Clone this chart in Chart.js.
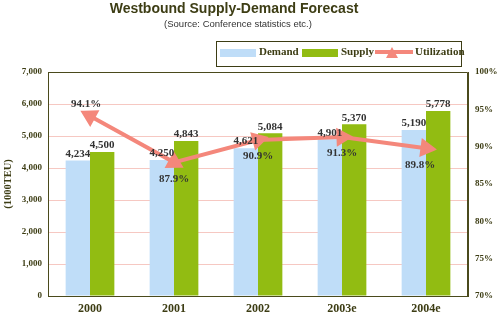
<!DOCTYPE html>
<html>
<head>
<meta charset="utf-8">
<script src="https://cdn.jsdelivr.net/npm/chart.js@4/dist/chart.umd.min.js"></script>
<style>
  html, body { margin: 0; padding: 0; background: #fff; }
  #wrap { width: 500px; height: 321px; }
</style>
</head>
<body>
<div id="wrap"><canvas id="chart" width="500" height="321"></canvas></div>
<script>
const categories = ['2000', '2001', '2002', '2003e', '2004e'];
const demand = [4234, 4250, 4621, 4901, 5190];
const supply = [4500, 4843, 5084, 5370, 5778];
const utilization = [94.1, 87.9, 90.9, 91.3, 89.8];

const olive = '#3d3d14';
const demandColor = '#bfddf8';
const supplyColor = '#92bc12';
const lineColor = '#f4877b';
const gridColor = '#f6c8c2';
const serif = '"Liberation Serif", "Times New Roman", serif';
const sans = '"Liberation Sans", Arial, sans-serif';

const fmt = v => v.toLocaleString('en-US');

// point the triangle markers along the line, like arrow heads
function arrowRotation(ctx) {
    const chart = ctx.chart;
    const xs = chart.scales.x, ys = chart.scales.y1;
    if (!xs || !ys) return 0;
    const i = ctx.dataIndex;
    const px = k => xs.getPixelForValue(k);
    const py = k => ys.getPixelForValue(utilization[k]);
    let dx, dy;
    if (i === 0) {
        dx = px(0) - px(1);
        dy = py(0) - py(1);
    } else {
        dx = px(i) - px(i - 1);
        dy = py(i) - py(i - 1);
    }
    return Math.atan2(dy, dx) * 180 / Math.PI + 90;
}

// titles, legend, frame and value labels
const extras = {
    id: 'extras',
    afterDatasetsDraw(chart) {
        const ctx = chart.ctx;
        const area = chart.chartArea;
        ctx.save();

        // plot frame
        ctx.strokeStyle = '#4a4a1c';
        ctx.lineWidth = 1;
        ctx.beginPath();
        ctx.moveTo(area.left + 0.5, area.bottom);
        ctx.lineTo(area.left + 0.5, area.top + 0.5);
        ctx.lineTo(area.right - 0.5, area.top + 0.5);
        ctx.lineTo(area.right - 0.5, area.bottom);
        ctx.stroke();

        // bar values
        ctx.fillStyle = '#333';
        ctx.font = 'bold 11px ' + serif;
        ctx.textAlign = 'center';
        ctx.textBaseline = 'bottom';
        [0, 1].forEach(d => {
            const meta = chart.getDatasetMeta(d);
            const vals = chart.data.datasets[d].data;
            meta.data.forEach((bar, i) => {
                ctx.fillText(fmt(vals[i]), bar.x, bar.y - 1);
            });
        });

        // utilization values
        const lm = chart.getDatasetMeta(2);
        lm.data.forEach((pt, i) => {
            const txt = utilization[i].toFixed(1) + '%';
            if (i === 0) {
                ctx.textBaseline = 'bottom';
                ctx.fillText(txt, pt.x - 4, pt.y - 6);
            } else {
                ctx.textBaseline = 'top';
                ctx.fillText(txt, pt.x - (i === 4 ? 6 : 0), pt.y + 11);
            }
        });
        ctx.restore();
    },
    afterDraw(chart) {
        const ctx = chart.ctx;
        ctx.save();
        // title + subtitle
        ctx.fillStyle = olive;
        ctx.textAlign = 'center';
        ctx.textBaseline = 'middle';
        ctx.font = 'bold 14px ' + sans;
        ctx.fillText('Westbound Supply-Demand Forecast', 234, 9);
        ctx.fillStyle = '#333';
        ctx.font = '9.5px ' + sans;
        ctx.fillText('(Source: Conference statistics etc.)', 238, 24);

        // legend box
        ctx.strokeStyle = olive;
        ctx.lineWidth = 1;
        ctx.strokeRect(216.5, 41.5, 245, 25);
        ctx.textAlign = 'left';
        ctx.font = 'bold 11px ' + serif;
        ctx.fillStyle = demandColor;
        ctx.fillRect(220, 49, 36, 8);
        ctx.fillStyle = supplyColor;
        ctx.fillRect(302, 49, 36, 8);
        ctx.strokeStyle = lineColor;
        ctx.lineWidth = 4;
        ctx.beginPath();
        ctx.moveTo(375, 52);
        ctx.lineTo(413, 52);
        ctx.stroke();
        ctx.fillStyle = lineColor;
        ctx.beginPath();
        ctx.moveTo(392, 47);
        ctx.lineTo(398, 58);
        ctx.lineTo(386, 58);
        ctx.closePath();
        ctx.fill();
        ctx.fillStyle = olive;
        ctx.fillText('Demand', 259, 52);
        ctx.fillText('Supply', 341, 52);
        ctx.fillText('Utilization', 415, 52);
        ctx.restore();
    }
};

new Chart(document.getElementById('chart'), {
    type: 'bar',
    data: {
        labels: categories,
        datasets: [
            {
                label: 'Demand',
                data: demand,
                backgroundColor: demandColor,
                yAxisID: 'y',
                categoryPercentage: 0.58,
                barPercentage: 1.0,
                order: 2
            },
            {
                label: 'Supply',
                data: supply,
                backgroundColor: supplyColor,
                yAxisID: 'y',
                categoryPercentage: 0.58,
                barPercentage: 1.0,
                order: 2
            },
            {
                type: 'line',
                label: 'Utilization',
                data: utilization,
                borderColor: lineColor,
                backgroundColor: lineColor,
                borderWidth: 4,
                pointStyle: 'triangle',
                pointRadius: 7,
                pointHoverRadius: 7,
                pointRotation: arrowRotation,
                yAxisID: 'y1',
                tension: 0,
                order: 1
            }
        ]
    },
    options: {
        responsive: false,
        animation: false,
        layout: { padding: { top: 72, left: 2, right: 0, bottom: 0 } },
        plugins: {
            legend: { display: false },
            title: { display: false },
            tooltip: { enabled: false }
        },
        scales: {
            x: {
                offset: true,
                grid: { display: false, drawTicks: false },
                border: { color: '#4a4a1c' },
                ticks: {
                    color: olive,
                    font: { family: serif, size: 12, weight: 'bold' },
                    padding: 6
                },
                afterFit(s) { s.height = 25; }
            },
            y: {
                min: 0,
                max: 7000,
                ticks: {
                    stepSize: 1000,
                    color: olive,
                    font: { family: serif, size: 9, weight: 'bold' },
                    padding: 6,
                    callback: v => fmt(v)
                },
                grid: { color: gridColor, drawTicks: false },
                border: { color: '#4a4a1c' },
                title: {
                    display: true,
                    text: '(1000TEU)',
                    color: olive,
                    font: { family: serif, size: 10.5, weight: 'bold' },
                    padding: 0
                },
                afterFit(s) { s.width = 46; }
            },
            y1: {
                position: 'right',
                min: 70,
                max: 100,
                ticks: {
                    stepSize: 5,
                    color: olive,
                    font: { family: serif, size: 9, weight: 'bold' },
                    padding: 7,
                    callback: v => v + '%'
                },
                grid: { drawOnChartArea: false, drawTicks: false },
                border: { color: '#4a4a1c' },
                afterFit(s) { s.width = 32; }
            }
        }
    },
    plugins: [extras]
});
</script>
</body>
</html>
